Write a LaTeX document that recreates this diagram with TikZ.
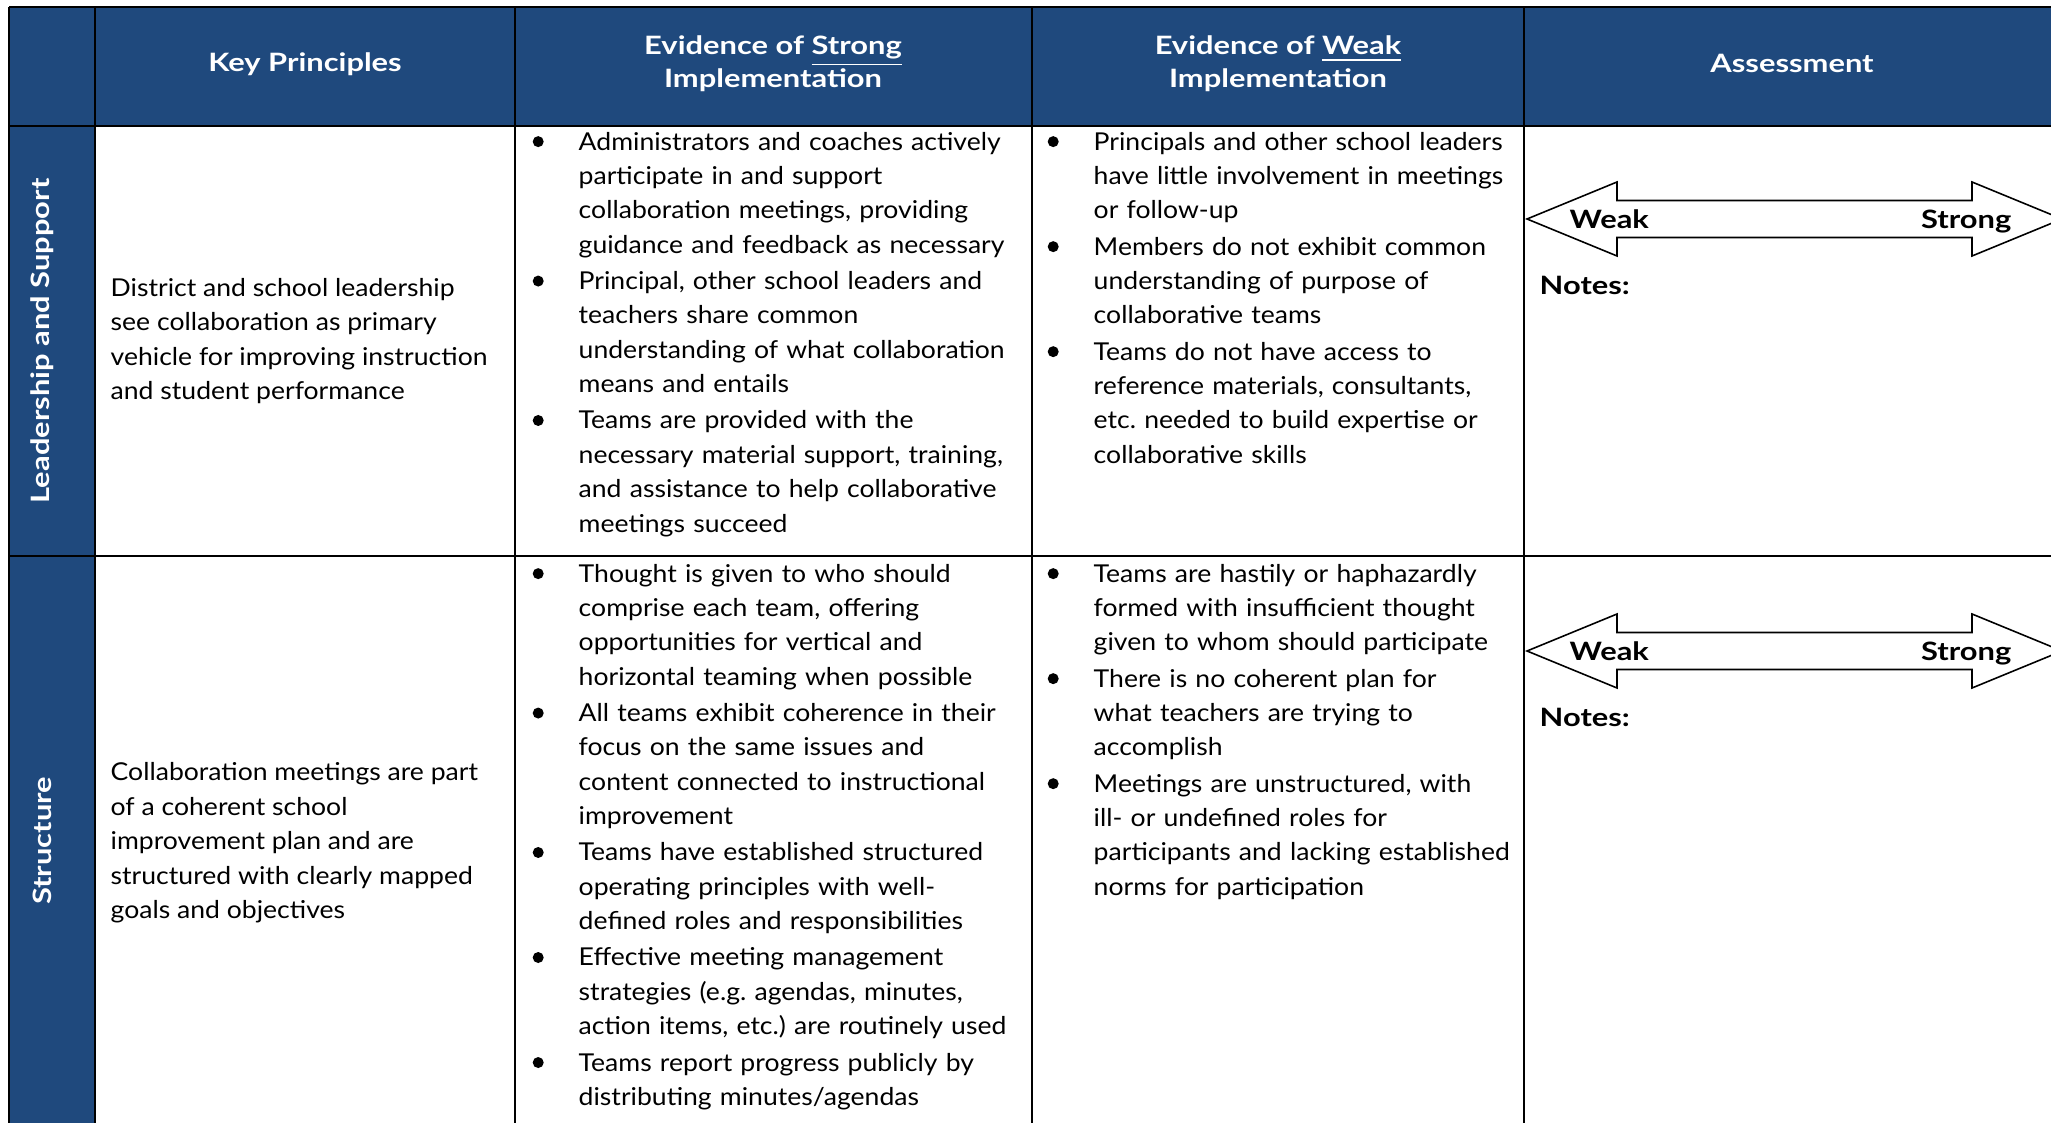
\documentclass[tikz,border=0pt]{standalone}
\usepackage{fontspec}
\setmainfont{Lato}[FakeStretch=1.08]
\newfontfamily\hdface{Lato}[FakeStretch=1.22]
\usepackage{enumitem}
\usetikzlibrary{positioning}

\definecolor{hdrblue}{HTML}{1F497D}
\newcommand\cellfont{\fontsize{7.0pt}{9.79pt}\selectfont}
\newcommand\hdrfont{\hdface\fontsize{7.2pt}{9.3pt}\selectfont\bfseries}
\newcommand\dotmark{\tikz[baseline=-0.68ex]\fill (0,0) circle (0.55mm);}
\setlist[itemize]{label=\dotmark, leftmargin=5.8mm, labelsep=3.5mm,
  itemsep=0.18mm, topsep=0pt, parsep=0pt, partopsep=0pt}
\frenchspacing

\tikzset{
  rule/.style={line width=0.6pt},
  hdr/.style={text=white, font=\hdrfont, align=center, inner sep=0pt},
  sidelabel/.style={text=white, font=\hdrfont, rotate=90, inner sep=0pt},
  keytext/.style={font=\cellfont, align=left, anchor=west, inner sep=0pt},
  bullets/.style={font=\cellfont, inner sep=0pt, text width=#1, align=left, anchor=north west},
  scalearrow/.style={draw, fill=white, line width=0.45pt, line join=miter},
  tag/.style={font=\hdrfont, inner sep=0pt}
}

\begin{document}
\begin{tikzpicture}[x=0.1mm,y=-0.1mm]
  \useasboundingbox (0,0) rectangle (2051,1123);
  \clip (0,0) rectangle (2051,1123);

  % blue header band and row labels
  \fill[hdrblue] (9,7) rectangle (2062,126);
  \fill[hdrblue] (9,126) rectangle (95,1126);

  % table rules
  \draw[rule] (9,7) -- (2062,7);
  \draw[rule] (9,126) -- (2062,126);
  \draw[rule] (9,556) -- (2062,556);
  \draw[rule] (9,1126) -- (2062,1126);
  \foreach \x in {9,95,515,1032,1524,2060}
    \draw[rule] (\x,7) -- (\x,1126);

  % header
  \node[hdr] (hdrKey) at (305,64) {Key Principles};
  \node[hdr] (hdrStrong) at (773,64) {Evidence of \underline{Strong}\\Implementation};
  \node[hdr] (hdrWeak) at (1278,64) {Evidence of \underline{Weak}\\Implementation};
  \node[hdr] (hdrAssess) at (1792,63) {Assessment};

  % row labels
  \node[sidelabel] (lblLead) at (42,341) {Leadership and Support};
  \node[sidelabel] (lblStruct) at (42,841) {Structure};

  % key principles
  \node[keytext] (keyLead) at (110,341) {District and school leadership\\see collaboration as primary\\vehicle for improving instruction\\and student performance};
  \node[keytext] (keyStruct) at (110,843) {Collaboration meetings are part\\of a coherent school\\improvement plan and are\\structured with clearly mapped\\goals and objectives};

  % evidence of strong implementation
  \node[bullets=50mm] (strongLead) at (520,115) {\begin{itemize}
    \item Administrators and coaches actively\\participate in and support\\collaboration meetings, providing\\guidance and feedback as necessary
    \item Principal, other school leaders and\\teachers share common\\understanding of what collaboration\\means and entails
    \item Teams are provided with the\\necessary material support, training,\\and assistance to help collaborative\\meetings succeed
  \end{itemize}};
  \node[bullets=50mm] (strongStruct) at (520,547) {\begin{itemize}
    \item Thought is given to who should\\comprise each team, offering\\opportunities for vertical and\\horizontal teaming when possible
    \item All teams exhibit coherence in their\\focus on the same issues and\\content connected to instructional\\improvement
    \item Teams have established structured\\operating principles with well-\\defined roles and responsibilities
    \item Effective meeting management\\strategies (e.g. agendas, minutes,\\action items, etc.) are routinely used
    \item Teams report progress publicly by\\distributing minutes/agendas
  \end{itemize}};

  % evidence of weak implementation
  \node[bullets=48mm] (weakLead) at (1035,115) {\begin{itemize}
    \item Principals and other school leaders\\have little involvement in meetings\\or follow-up
    \item Members do not exhibit common\\understanding of purpose of\\collaborative teams
    \item Teams do not have access to\\reference materials, consultants,\\etc. needed to build expertise or\\collaborative skills
  \end{itemize}};
  \node[bullets=48mm] (weakStruct) at (1035,547) {\begin{itemize}
    \item Teams are hastily or haphazardly\\formed with insufficient thought\\given to whom should participate
    \item There is no coherent plan for\\what teachers are trying to\\accomplish
    \item Meetings are unstructured, with\\ill- or undefined roles for\\participants and lacking established\\norms for participation
  \end{itemize}};

  % assessment scales
  \foreach \y/\r in {219/Lead,651/Struct}{
    \draw[scalearrow] (1527,\y) -- (1617,\y-37) -- (1617,\y-18.5) -- (1972,\y-18.5)
      -- (1972,\y-37) -- (2062,\y) -- (1972,\y+37) -- (1972,\y+18.5)
      -- (1617,\y+18.5) -- (1617,\y+37) -- cycle;
    \node[tag, anchor=base west] (weak\r) at (1569,\y+10) {Weak};
    \node[tag, anchor=base east] (strong\r) at (2012,\y+10) {Strong};
    \node[tag, anchor=base west] (notes\r) at (1539,\y+76) {Notes:};
  }
\end{tikzpicture}
\end{document}
